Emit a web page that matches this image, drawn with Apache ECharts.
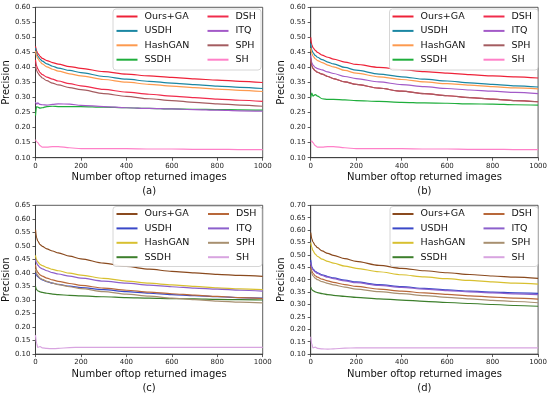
<!DOCTYPE html>
<html>
<head>
<meta charset="utf-8">
<script src="https://cdn.jsdelivr.net/npm/echarts@6/dist/echarts.min.js"></script>
<style>html,body{margin:0;padding:0;background:#fff;}#chart{width:550px;height:396px;}</style>
</head>
<body>
<div id="chart"></div>
<script>
// ---- data ----
const xPoints = [0, 5, 10, 20, 30, 50, 75, 100, 150, 200, 300, 400, 500, 600, 700, 800, 900, 1000];
const methods = ['Ours+GA', 'USDH', 'HashGAN', 'SSDH', 'DSH', 'ITQ', 'SPH', 'SH'];
const panelLabels = ['(a)', '(b)', '(c)', '(d)'];
const xTicks = [0, 200, 400, 600, 800, 1000];
const yMaxes = [0.60, 0.60, 0.65, 0.70];

// panel (a)
const a_OursGA  = [0.470, 0.455, 0.447, 0.437, 0.430, 0.423, 0.416, 0.411, 0.403, 0.397, 0.386, 0.378, 0.372, 0.367, 0.362, 0.358, 0.354, 0.350];
const a_USDH    = [0.465, 0.447, 0.438, 0.428, 0.421, 0.412, 0.404, 0.398, 0.390, 0.383, 0.370, 0.361, 0.354, 0.348, 0.343, 0.338, 0.334, 0.330];
const a_HashGAN = [0.455, 0.438, 0.430, 0.419, 0.412, 0.402, 0.394, 0.388, 0.379, 0.372, 0.360, 0.351, 0.344, 0.338, 0.333, 0.328, 0.324, 0.320];
const a_SSDH    = [0.240, 0.270, 0.268, 0.265, 0.266, 0.270, 0.271, 0.270, 0.270, 0.270, 0.268, 0.266, 0.264, 0.262, 0.261, 0.260, 0.259, 0.258];
const a_DSH     = [0.425, 0.405, 0.395, 0.383, 0.376, 0.368, 0.361, 0.355, 0.346, 0.339, 0.327, 0.318, 0.311, 0.305, 0.300, 0.295, 0.291, 0.287];
const a_ITQ     = [0.285, 0.278, 0.282, 0.277, 0.276, 0.275, 0.277, 0.279, 0.278, 0.274, 0.270, 0.266, 0.264, 0.262, 0.260, 0.258, 0.256, 0.255];
const a_SPH     = [0.405, 0.390, 0.382, 0.372, 0.365, 0.356, 0.348, 0.342, 0.333, 0.326, 0.313, 0.304, 0.296, 0.290, 0.284, 0.279, 0.275, 0.271];
const a_SH      = [0.160, 0.153, 0.150, 0.140, 0.135, 0.135, 0.137, 0.137, 0.133, 0.130, 0.130, 0.130, 0.129, 0.129, 0.128, 0.128, 0.127, 0.127];

// panel (b)
const b_OursGA  = [0.500, 0.475, 0.466, 0.457, 0.450, 0.441, 0.434, 0.428, 0.418, 0.410, 0.400, 0.393, 0.386, 0.381, 0.376, 0.372, 0.369, 0.365];
const b_USDH    = [0.480, 0.458, 0.449, 0.440, 0.434, 0.426, 0.418, 0.412, 0.400, 0.391, 0.378, 0.369, 0.361, 0.355, 0.349, 0.344, 0.339, 0.335];
const b_HashGAN = [0.465, 0.447, 0.438, 0.429, 0.423, 0.416, 0.408, 0.402, 0.390, 0.381, 0.369, 0.360, 0.352, 0.346, 0.341, 0.336, 0.332, 0.329];
const b_SSDH    = [0.300, 0.315, 0.305, 0.310, 0.305, 0.296, 0.294, 0.294, 0.292, 0.290, 0.287, 0.284, 0.282, 0.281, 0.279, 0.278, 0.276, 0.275];
const b_DSH     = [0.430, 0.405, 0.397, 0.389, 0.384, 0.378, 0.370, 0.363, 0.352, 0.344, 0.331, 0.321, 0.313, 0.306, 0.300, 0.295, 0.290, 0.286];
const b_ITQ     = [0.440, 0.415, 0.408, 0.400, 0.396, 0.392, 0.385, 0.380, 0.370, 0.363, 0.352, 0.343, 0.336, 0.330, 0.325, 0.321, 0.317, 0.313];
const b_SPH     = [0.430, 0.405, 0.397, 0.389, 0.384, 0.378, 0.370, 0.363, 0.352, 0.344, 0.331, 0.321, 0.313, 0.306, 0.300, 0.295, 0.290, 0.286];
const b_SH      = [0.155, 0.155, 0.150, 0.140, 0.135, 0.135, 0.137, 0.137, 0.133, 0.130, 0.130, 0.130, 0.129, 0.129, 0.128, 0.128, 0.127, 0.127];

// panel (c)
const c_OursGA  = [0.560, 0.530, 0.518, 0.505, 0.498, 0.489, 0.481, 0.474, 0.462, 0.452, 0.436, 0.424, 0.414, 0.406, 0.400, 0.395, 0.391, 0.387];
const c_USDH    = [0.400, 0.392, 0.386, 0.379, 0.374, 0.368, 0.362, 0.358, 0.351, 0.346, 0.338, 0.331, 0.325, 0.320, 0.316, 0.312, 0.309, 0.307];
const c_HashGAN = [0.465, 0.448, 0.441, 0.432, 0.427, 0.420, 0.413, 0.408, 0.399, 0.392, 0.380, 0.370, 0.362, 0.356, 0.350, 0.345, 0.341, 0.338];
const c_SSDH    = [0.350, 0.338, 0.334, 0.330, 0.328, 0.325, 0.322, 0.320, 0.317, 0.315, 0.312, 0.309, 0.307, 0.305, 0.304, 0.302, 0.301, 0.300];
const c_DSH     = [0.430, 0.410, 0.402, 0.393, 0.388, 0.381, 0.374, 0.369, 0.361, 0.354, 0.344, 0.336, 0.329, 0.323, 0.318, 0.313, 0.309, 0.305];
const c_ITQ     = [0.450, 0.436, 0.429, 0.420, 0.415, 0.408, 0.401, 0.396, 0.388, 0.381, 0.370, 0.362, 0.355, 0.349, 0.344, 0.340, 0.336, 0.333];
const c_SPH     = [0.415, 0.398, 0.390, 0.381, 0.376, 0.369, 0.362, 0.357, 0.349, 0.342, 0.331, 0.322, 0.314, 0.307, 0.301, 0.296, 0.292, 0.289];
const c_SH      = [0.170, 0.140, 0.125, 0.128, 0.123, 0.121, 0.120, 0.121, 0.124, 0.125, 0.125, 0.125, 0.125, 0.125, 0.125, 0.125, 0.125, 0.125];

// panel (d)
const d_OursGA  = [0.590, 0.565, 0.552, 0.538, 0.529, 0.516, 0.506, 0.498, 0.485, 0.474, 0.458, 0.446, 0.436, 0.428, 0.421, 0.415, 0.410, 0.405];
const d_USDH    = [0.480, 0.452, 0.443, 0.434, 0.428, 0.420, 0.413, 0.407, 0.398, 0.391, 0.380, 0.372, 0.365, 0.359, 0.354, 0.350, 0.347, 0.345];
const d_HashGAN = [0.550, 0.530, 0.517, 0.503, 0.494, 0.483, 0.474, 0.467, 0.455, 0.446, 0.432, 0.420, 0.411, 0.404, 0.397, 0.391, 0.386, 0.382];
const d_SSDH    = [0.370, 0.360, 0.356, 0.351, 0.348, 0.344, 0.340, 0.337, 0.333, 0.329, 0.323, 0.318, 0.313, 0.308, 0.304, 0.300, 0.296, 0.293];
const d_DSH     = [0.455, 0.435, 0.426, 0.416, 0.410, 0.402, 0.395, 0.389, 0.380, 0.373, 0.362, 0.354, 0.347, 0.341, 0.335, 0.330, 0.326, 0.322];
const d_ITQ     = [0.470, 0.448, 0.440, 0.431, 0.425, 0.417, 0.410, 0.404, 0.395, 0.388, 0.377, 0.369, 0.362, 0.356, 0.351, 0.347, 0.343, 0.340];
const d_SPH     = [0.445, 0.425, 0.416, 0.406, 0.400, 0.392, 0.385, 0.379, 0.370, 0.362, 0.352, 0.344, 0.336, 0.329, 0.323, 0.317, 0.312, 0.307];
const d_SH      = [0.170, 0.140, 0.125, 0.128, 0.123, 0.121, 0.120, 0.121, 0.124, 0.125, 0.125, 0.125, 0.125, 0.125, 0.125, 0.125, 0.125, 0.125];

const panelData = [
  [a_OursGA, a_USDH, a_HashGAN, a_SSDH, a_DSH, a_ITQ, a_SPH, a_SH],
  [b_OursGA, b_USDH, b_HashGAN, b_SSDH, b_DSH, b_ITQ, b_SPH, b_SH],
  [c_OursGA, c_USDH, c_HashGAN, c_SSDH, c_DSH, c_ITQ, c_SPH, c_SH],
  [d_OursGA, d_USDH, d_HashGAN, d_SSDH, d_DSH, d_ITQ, d_SPH, d_SH]
];

// ---- styles ----
const colorsTop = ['#ee2238', '#1b87a3', '#fd9a4f', '#1fae3c', '#f02c4c', '#a35ac8', '#a45c60', '#ff80c8'];
const colorsBottom = ['#8a4a1e', '#3a48c8', '#d8c030', '#3d7f2c', '#b8683a', '#8c60cc', '#a89070', '#d8a4e0'];
const panelColors = [colorsTop, colorsTop, colorsBottom, colorsBottom];

const grids = [
  {left: 33.7, top: 7.3, width: 229, height: 150.4},
  {left: 310.7, top: 7.3, width: 228.6, height: 150.4},
  {left: 33.7, top: 205.3, width: 229, height: 150.7},
  {left: 310.7, top: 205.3, width: 228.6, height: 150.7}
];
const legendBoxes = [
  {x: 113, y: 9, w: 148, h: 61},
  {x: 389.5, y: 9, w: 148.5, h: 61},
  {x: 113, y: 206.5, w: 149, h: 60},
  {x: 390, y: 206.5, w: 148, h: 60}
];
const legendCols = [
  [116.5, 207.5], [392.5, 483.5], [116.5, 208], [392.5, 483.5]
];

const font = 'DejaVu Sans';
const option = {
  animation: false,
  backgroundColor: '#fff',
  textStyle: {fontFamily: font},
  grid: grids.map(g => Object.assign({show: true, borderColor: '#333', borderWidth: 0.8, backgroundColor: 'transparent'}, g)),
  xAxis: grids.map((g, i) => ({
    type: 'value', gridIndex: i, min: 0, max: 1000, interval: 200,
    name: 'Number oftop returned images\n' + panelLabels[i],
    nameLocation: 'middle', nameGap: 9.5,
    nameTextStyle: {fontFamily: font, fontSize: 10, lineHeight: 14, color: '#111'},
    axisLine: {show: true, lineStyle: {color: '#333', width: 0.8}},
    axisTick: {show: true, length: 3, inside: false, lineStyle: {color: '#333', width: 0.8}},
    axisLabel: {fontFamily: font, fontSize: 7, color: '#222', margin: 5, formatter: v => String(Math.round(v))},
    splitLine: {show: false}
  })),
  yAxis: grids.map((g, i) => ({
    type: 'value', gridIndex: i, min: 0.10, max: yMaxes[i], interval: 0.05,
    name: 'Precision', nameLocation: 'middle', nameGap: 19,
    nameTextStyle: {fontFamily: font, fontSize: 10, color: '#111'},
    axisLine: {show: true, lineStyle: {color: '#333', width: 0.8}},
    axisTick: {show: true, length: 3, inside: false, lineStyle: {color: '#333', width: 0.8}},
    axisLabel: {fontFamily: font, fontSize: 7, color: '#222', margin: 5, formatter: v => v.toFixed(2)},
    splitLine: {show: false}
  })),
  legend: [],
  graphic: legendBoxes.map(b => ({
    type: 'rect', z: 10, shape: {x: b.x, y: b.y, width: b.w, height: b.h, r: 3},
    style: {fill: 'rgba(255,255,255,0.9)', stroke: '#cccccc', lineWidth: 0.8}
  })),
  series: []
};

panelData.forEach((arrs, p) => {
  const tag = 'abcd'[p];
  arrs.forEach((vals, m) => {
    option.series.push({
      type: 'line',
      name: tag + ':' + methods[m],
      xAxisIndex: p, yAxisIndex: p,
      data: xPoints.map((x, k) => [x, vals[k]]),
      showSymbol: false, symbol: 'none',
      smooth: 0.3, smoothMonotone: 'x',
      lineStyle: {width: 1.2, color: panelColors[p][m]},
      itemStyle: {color: panelColors[p][m]}
    });
  });
  const rowTop = legendBoxes[p].y + 1.5;
  [0, 1].forEach(col => {
    option.legend.push({
      orient: 'vertical', z: 20,
      left: legendCols[p][col], top: rowTop,
      padding: 0, itemGap: 2.4, itemWidth: 21, itemHeight: 2,
      icon: 'rect', selectedMode: false,
      data: methods.slice(col * 4, col * 4 + 4).map(n => tag + ':' + n),
      formatter: name => name.slice(2),
      textStyle: {fontFamily: font, fontSize: 9.5, lineHeight: 12, color: '#111', padding: [0, 0, 0, 2]}
    });
  });
});

const chart = echarts.init(document.getElementById('chart'), null, {renderer: 'canvas'});
chart.setOption(option);
</script>
</body>
</html>
